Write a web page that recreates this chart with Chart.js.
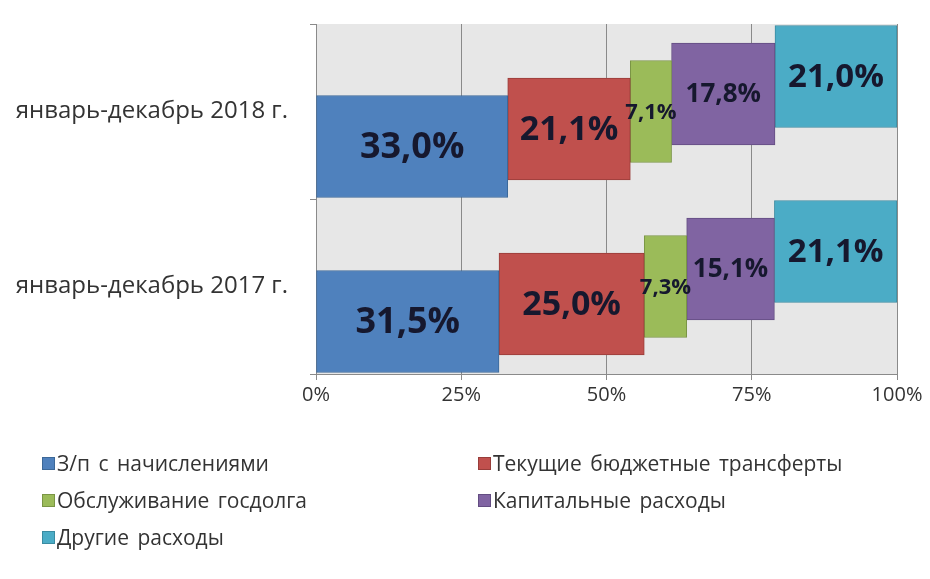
<!DOCTYPE html>
<html>
<head>
<meta charset="utf-8">
<script src="https://cdn.jsdelivr.net/npm/chart.js@4"></script>
<style>
  html, body { margin: 0; padding: 0; background: #ffffff; }
  #wrap { position: relative; width: 930px; height: 579px; }
  #legend { position: absolute; left: 42px; top: 451px; width: 888px;
    display: grid; grid-template-columns: 436px 450px; row-gap: 13px;
    font-family: "Open Sans", sans-serif; font-size: 21px; color: #333333; word-spacing: 3px; }
  .li { display: flex; align-items: center; height: 24px; white-space: nowrap; }
  .box { width: 13px; height: 13px; margin-right: 2px; box-sizing: border-box; border: 1px solid; flex: none; }
</style>
</head>
<body>
<div id="wrap">
  <canvas id="c" width="930" height="579"></canvas>
  <div id="legend"></div>
</div>
<script>
// ---- data ----
const categories = ['январь-декабрь 2017 г.', 'январь-декабрь 2018 г.'];
const seriesNames = ['З/п с начислениями', 'Текущие бюджетные трансферты', 'Обслуживание госдолга', 'Капитальные расходы', 'Другие расходы'];
const salaries   = [31.5, 33.0];
const transfers  = [25.0, 21.1];
const debt       = [7.3, 7.1];
const capital    = [15.1, 17.8];
const other      = [21.1, 21.0];
const xTicks     = [0, 25, 50, 75, 100];

// ---- styles ----
const fills   = ['#4f81bd', '#c0504d', '#9bbb59', '#8064a2', '#4bacc6'];
const borders = ['#3c6898', '#983d3a', '#7a9545', '#634d82', '#3a8ba1'];
const labelSizes = [36, 34, 22, 26, 33];

const seriesValues = [salaries, transfers, debt, capital, other];
const cum = categories.map(() => 0);
const datasets = seriesValues.map((vals, s) => {
  const data = vals.map((v, i) => {
    const start = cum[i];
    cum[i] += v;
    return { x: [start, start + v], y: i + 0.3 + s * 0.1, v: v };
  });
  return {
    label: seriesNames[s],
    data: data,
    backgroundColor: fills[s],
    borderColor: borders[s],
    borderWidth: 1,
    borderSkipped: false,
    barThickness: 102,
    stack: 'all',
    labelSize: labelSizes[s]
  };
});

const plotBg = {
  id: 'plotBg',
  beforeDraw(chart) {
    const a = chart.chartArea, ctx = chart.ctx;
    ctx.save();
    ctx.fillStyle = '#e7e7e7';
    ctx.fillRect(a.left, a.top, a.right - a.left, a.bottom - a.top);
    ctx.restore();
  }
};

const valueLabels = {
  id: 'valueLabels',
  afterDatasetsDraw(chart) {
    const ctx = chart.ctx;
    ctx.save();
    chart.data.datasets.forEach((ds, di) => {
      const meta = chart.getDatasetMeta(di);
      meta.data.forEach((el, i) => {
        const txt = ds.data[i].v.toFixed(1).replace('.', ',') + '%';
        const cx = (el.x + el.base) / 2;
        ctx.font = 'bold ' + ds.labelSize + 'px "Open Sans", sans-serif';
        ctx.fillStyle = '#16182e';
        ctx.textAlign = 'center';
        ctx.textBaseline = 'middle';
        ctx.fillText(txt, cx, el.y + 1);
      });
    });
    ctx.restore();
  }
};

const chart = new Chart(document.getElementById('c'), {
  type: 'bar',
  data: { datasets: datasets },
  plugins: [plotBg, valueLabels],
  options: {
    indexAxis: 'y',
    responsive: false,
    animation: false,
    layout: { padding: { top: 24, right: 33, bottom: 165, left: 0 } },
    plugins: { legend: { display: false }, tooltip: { enabled: false } },
    scales: {
      x: {
        type: 'linear',
        min: 0, max: 100,
        afterBuildTicks(scale) { scale.ticks = xTicks.map(v => ({ value: v })); },
        afterFit(scale) { scale.height = 40; },
        ticks: {
          callback: v => v + '%',
          font: { family: '"Open Sans", sans-serif', size: 20 },
          color: '#333333',
          padding: 3
        },
        grid: { color: '#8a8a8a', lineWidth: 1, tickLength: 6, tickColor: '#8a8a8a' },
        border: { display: true, color: '#8a8a8a' }
      },
      y: {
        type: 'linear',
        offset: false,
        min: 0, max: 2,
        afterBuildTicks(scale) { scale.ticks = [0, 0.5, 1, 1.5, 2].map(v => ({ value: v })); },
        afterFit(scale) { scale.width = 316; scale.paddingTop = 0; scale.paddingBottom = 0; },
        ticks: {
          autoSkip: false,
          callback: v => (v % 1 !== 0 ? categories[Math.floor(v)] : ''),
          font: { family: '"Open Sans", sans-serif', size: 24 },
          color: '#333333',
          padding: 22
        },
        grid: {
          offset: false,
          drawOnChartArea: false,
          tickLength: 6,
          tickColor: c => (c.tick && c.tick.value % 1 === 0 ? '#8a8a8a' : 'rgba(0,0,0,0)')
        },
        border: { display: true, color: '#8a8a8a' }
      }
    }
  }
});

// HTML legend built from the chart's datasets
const lg = document.getElementById('legend');
chart.data.datasets.forEach((ds) => {
  const it = document.createElement('div');
  it.className = 'li';
  const b = document.createElement('span');
  b.className = 'box';
  b.style.background = ds.backgroundColor;
  b.style.borderColor = ds.borderColor;
  const t = document.createElement('span');
  t.textContent = ds.label;
  it.appendChild(b); it.appendChild(t);
  lg.appendChild(it);
});
</script>
</body>
</html>
